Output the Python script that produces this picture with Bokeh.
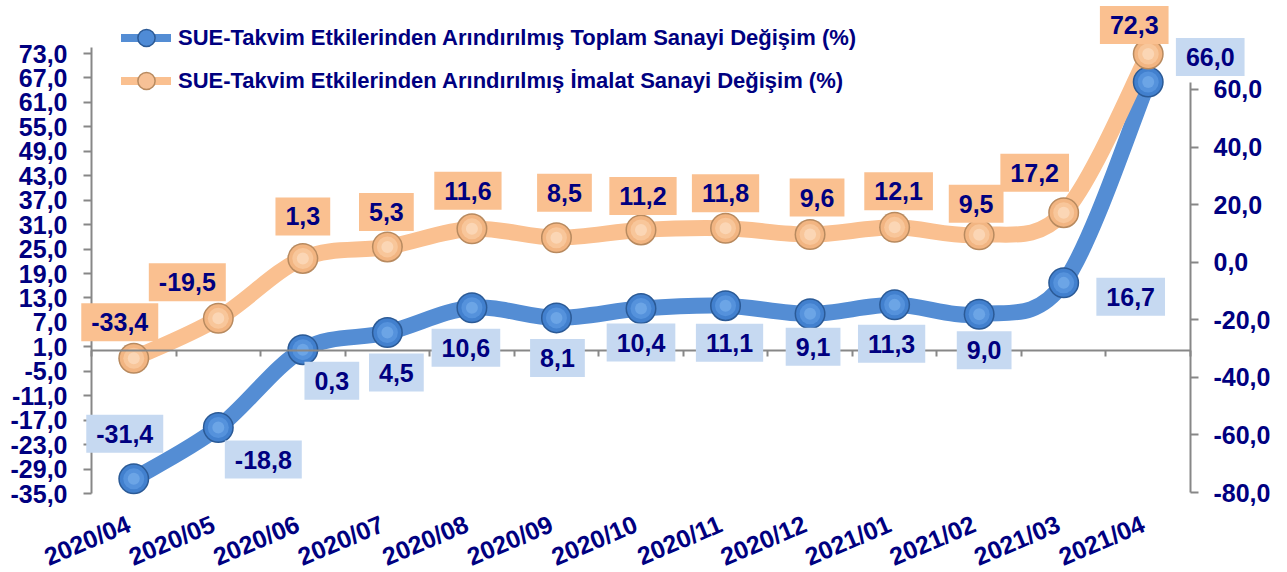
from bokeh.plotting import figure
from bokeh.models import (Range1d, LinearAxis, FixedTicker, Legend, LegendItem, Label,
                          ColumnDataSource, CustomJSTickFormatter)
from bokeh.embed import file_html
from bokeh.resources import INLINE

# ---------------- data ----------------
categories = ["2020/04", "2020/05", "2020/06", "2020/07", "2020/08", "2020/09", "2020/10",
              "2020/11", "2020/12", "2021/01", "2021/02", "2021/03", "2021/04"]
toplam = [-31.4, -18.8, 0.3, 4.5, 10.6, 8.1, 10.4, 11.1, 9.1, 11.3, 9.0, 16.7, 66.0]
imalat = [-33.4, -19.5, 1.3, 5.3, 11.6, 8.5, 11.2, 11.8, 9.6, 12.1, 9.5, 17.2, 72.3]
left_ticks = [73, 67, 61, 55, 49, 43, 37, 31, 25, 19, 13, 7, 1, -5, -11, -17, -23, -29, -35]
right_ticks = [60, 40, 20, 0, -20, -40, -60, -80]
series_names = ["SUE-Takvim Etkilerinden Arındırılmış Toplam Sanayi Değişim (%)",
                "SUE-Takvim Etkilerinden Arındırılmış İmalat Sanayi Değişim (%)"]

# ---------------- style ----------------
NAVY = "#000080"
GRAY = "#878787"
BLUE_LINE = "#548DD4"
ORANGE_LINE = "#FAC090"
BLUE_BOX = "#C6D9F1"
ORANGE_BOX = "#FAC090"
FONT = "Liberation Sans"
BLUE_SPHERE = [("#2B5A96", 31), ("#4280CE", 28), ("#5592DC", 21), ("#6CA5E6", 12)]
ORANGE_SPHERE = [("#B88A5F", 31), ("#F2B582", 28), ("#F8C69A", 21), ("#FBD6B5", 12)]
# label offsets in screen pixels (dx right, dy down)
blue_off = [(-9, -45), (45, 32), (29, 31), (9, 40), (-6, 40), (1, 40), (0, 34), (4, 37),
            (3, 33), (-3, 39), (5, 36), (67, 14), (62, -25)]
orange_off = [(-14, -36), (-31, -36), (0, -42), (-1, -35), (-4, -38), (8, -45), (2, -34),
              (0, -35), (7, -37), (4, -36), (-3, -31), (-29, -40), (-14, -29)]
CAT_LABEL_SHIFT = -0.06   # small horizontal nudge of category labels (x units)

n = len(categories)
xs = [i + 0.5 for i in range(n)]

# the frame covers the whole canvas; axes are placed with fixed locations
p = figure(width=1279, height=572, x_range=Range1d(-1.0764, n + 1.0528),
           y_range=Range1d(-54.39, 86.01),
           x_axis_location=None, y_axis_location=None, output_backend="svg",
           toolbar_location=None, min_border_left=0, min_border_right=0,
           min_border_top=0, min_border_bottom=0)
p.extra_y_ranges = {"right": Range1d(-107.78, 90.90)}
p.outline_line_color = None
p.background_fill_color = "white"
p.border_fill_color = "white"
p.grid.visible = False

fmt_js = CustomJSTickFormatter(code="return tick.toFixed(1).replace('.', ',');")


def style_axis(ax):
    ax.axis_line_color = GRAY
    ax.axis_line_width = 2
    ax.major_tick_line_color = GRAY
    ax.major_tick_line_width = 2
    ax.major_tick_in = 0
    ax.major_tick_out = 8
    ax.minor_tick_line_color = None
    ax.major_label_text_font = FONT
    ax.major_label_text_font_style = "bold"
    ax.major_label_text_font_size = "25px"
    ax.major_label_text_color = NAVY


left_axis = LinearAxis(fixed_location=0, ticker=FixedTicker(ticks=left_ticks), formatter=fmt_js,
                       bounds=(left_ticks[-1], 74.5), major_label_standoff=16)
style_axis(left_axis)
p.add_layout(left_axis, "left")

right_axis = LinearAxis(fixed_location=n, y_range_name="right",
                        ticker=FixedTicker(ticks=right_ticks),
                        formatter=fmt_js, bounds=(right_ticks[-1], 62.5), major_label_standoff=15)
style_axis(right_axis)
p.add_layout(right_axis, "right")

# horizontal axis line crossing at 0, ticks between categories
zero_axis = LinearAxis(fixed_location=0, ticker=FixedTicker(ticks=list(range(0, n + 1))),
                       bounds=(0, n))
style_axis(zero_axis)
zero_axis.major_tick_out = 6
zero_axis.major_label_text_color = None
p.add_layout(zero_axis, "below")

# category labels at the bottom of the plot area
cat_fmt = CustomJSTickFormatter(args=dict(cats=categories),
                                code="return cats[Math.floor(tick)];")
cat_axis = LinearAxis(fixed_location=left_ticks[-1],
                      ticker=FixedTicker(ticks=[x + CAT_LABEL_SHIFT for x in xs]),
                      formatter=cat_fmt, major_label_orientation=0.40, major_label_standoff=29)
style_axis(cat_axis)
cat_axis.axis_line_color = None
cat_axis.major_tick_line_color = None
cat_axis.major_tick_out = 0
p.add_layout(cat_axis, "below")


def smooth(xv, yv):
    m = len(xv)
    seg = {k: [] for k in ("x0", "y0", "x1", "y1", "cx0", "cy0", "cx1", "cy1")}
    for i in range(m - 1):
        xm, ym = (xv[i - 1], yv[i - 1]) if i > 0 else (xv[i], yv[i])
        xp, yp = (xv[i + 2], yv[i + 2]) if i + 2 < m else (xv[i + 1], yv[i + 1])
        seg["x0"].append(xv[i]); seg["y0"].append(yv[i])
        seg["x1"].append(xv[i + 1]); seg["y1"].append(yv[i + 1])
        seg["cx0"].append(xv[i] + (xv[i + 1] - xm) / 6)
        seg["cy0"].append(yv[i] + (yv[i + 1] - ym) / 6)
        seg["cx1"].append(xv[i + 1] - (xp - xv[i]) / 6)
        seg["cy1"].append(yv[i + 1] - (yp - yv[i]) / 6)
    return ColumnDataSource(seg)


p.bezier(x0="x0", y0="y0", x1="x1", y1="y1", cx0="cx0", cy0="cy0", cx1="cx1", cy1="cy1",
         source=smooth(xs, toplam), line_color=BLUE_LINE, line_width=16, line_cap="round")
p.bezier(x0="x0", y0="y0", x1="x1", y1="y1", cx0="cx0", cy0="cy0", cx1="cx1", cy1="cy1",
         source=smooth(xs, imalat), line_color=ORANGE_LINE, line_width=16, line_cap="round",
         y_range_name="right")

for (col, sz) in BLUE_SPHERE:
    p.scatter(xs, toplam, size=sz, fill_color=col, line_color=None)
for (col, sz) in ORANGE_SPHERE:
    p.scatter(xs, imalat, size=sz, fill_color=col, line_color=None, y_range_name="right")


def fmt(v):
    return f"{v:.1f}".replace(".", ",")


for x, v, (dx, dy) in zip(xs, toplam, blue_off):
    p.add_layout(Label(x=x, y=v, x_offset=dx, y_offset=-dy, text=fmt(v), text_align="center",
                       text_baseline="middle", text_font=FONT, text_font_style="bold",
                       text_font_size="25px", text_color=NAVY,
                       background_fill_color=BLUE_BOX, padding=10))
for x, v, (dx, dy) in zip(xs, imalat, orange_off):
    p.add_layout(Label(x=x, y=v, x_offset=dx, y_offset=-dy, text=fmt(v), text_align="center",
                       text_baseline="middle", text_font=FONT, text_font_style="bold",
                       text_font_size="25px", text_color=NAVY, y_range_name="right",
                       background_fill_color=ORANGE_BOX, padding=10))

# legend proxies (single NaN point, never visible in the plot)
nan = float("nan")
lb = p.line(x=[nan], y=[nan], line_color=BLUE_LINE, line_width=8, line_cap="round")
sb = p.scatter(x=[nan], y=[nan], fill_color="#4F8BD6", line_color="#2B5A96", line_width=1.5)
lo = p.line(x=[nan], y=[nan], line_color=ORANGE_LINE, line_width=8, line_cap="round")
so = p.scatter(x=[nan], y=[nan], fill_color="#F7C196", line_color="#B88A5F", line_width=1.5)
legend = Legend(items=[LegendItem(label=series_names[0], renderers=[lb, sb]),
                       LegendItem(label=series_names[1], renderers=[lo, so])],
                location=(121, 470), glyph_width=50, glyph_height=43, spacing=0, padding=0,
                margin=0, border_line_color=None, background_fill_alpha=0, label_standoff=7,
                label_text_font=FONT, label_text_font_style="bold",
                label_text_font_size="22px", label_text_color=NAVY)
p.add_layout(legend)

open("out.html", "w").write(file_html(p, INLINE))
